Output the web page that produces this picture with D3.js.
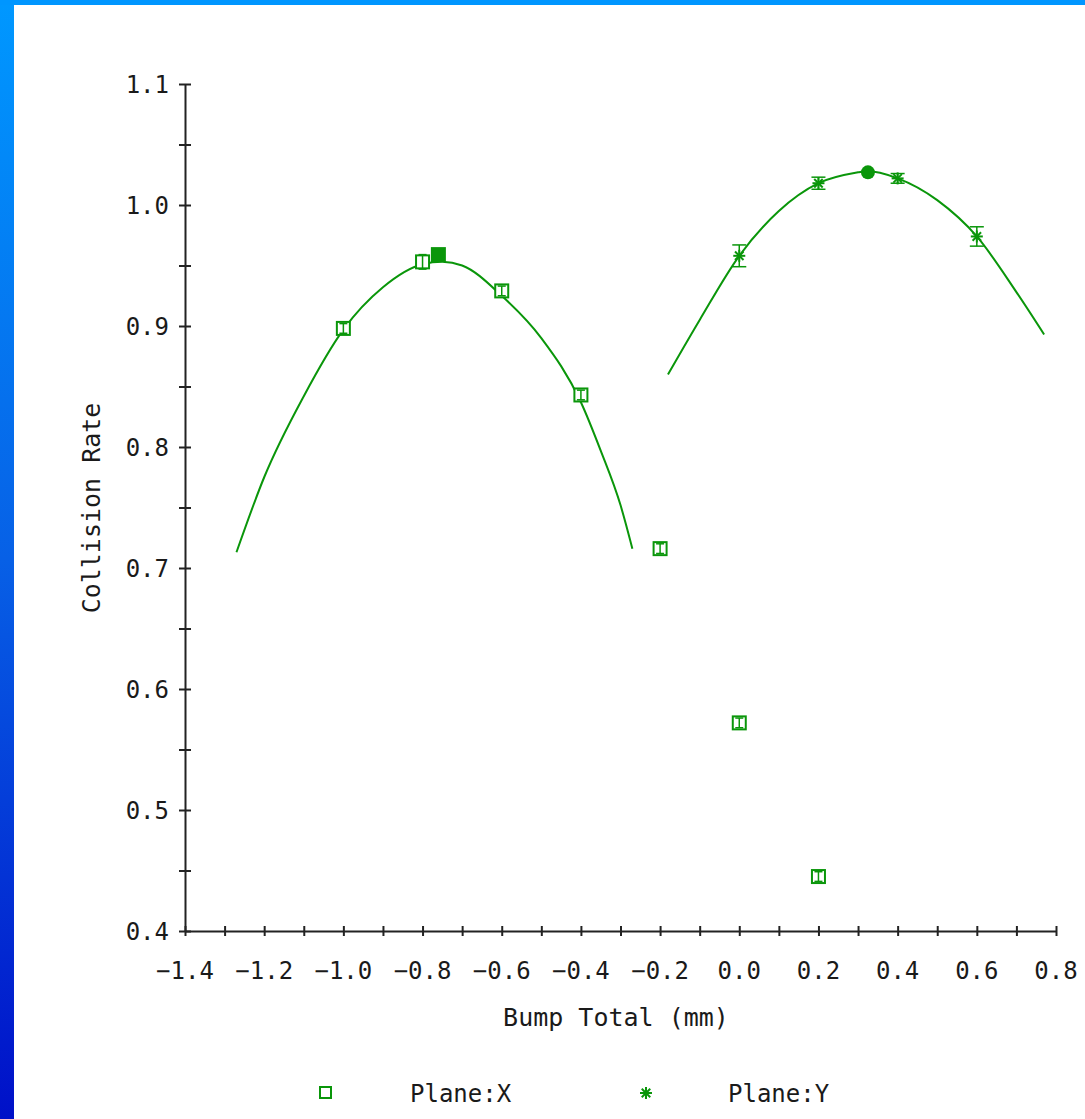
<!DOCTYPE html>
<html><head><meta charset="utf-8">
<script src="https://cdn.jsdelivr.net/npm/d3@7"></script>
<style>
html,body{margin:0;padding:0;background:#fff;}
svg{display:block;}
text{font-family:"DejaVu Sans Mono","Liberation Mono",monospace;fill:#1a1a1a;}
</style></head><body>
<script>
// ---- data ----
const planeX_x   = [-1.0, -0.8, -0.6, -0.4, -0.2, 0.0, 0.2];
const planeX_y   = [0.898, 0.953, 0.929, 0.843, 0.716, 0.572, 0.445];
const planeX_err = [0.004, 0.006, 0.004, 0.004, 0.004, 0.004, 0.004];
const planeY_x   = [0.0, 0.2, 0.4, 0.6];
const planeY_y   = [0.958, 1.018, 1.022, 0.974];
const planeY_err = [0.009, 0.005, 0.004, 0.008];
const fitX_x = [-1.27, -1.2, -1.1, -1.0, -0.9, -0.8, -0.75, -0.7, -0.6, -0.5, -0.4, -0.35, -0.3, -0.27];
const fitX_y = [0.713, 0.775, 0.842, 0.897, 0.932, 0.951, 0.953, 0.950, 0.925, 0.890, 0.837, 0.797, 0.752, 0.716];
const fitY_x = [-0.18, -0.1, 0.0, 0.1, 0.2, 0.3, 0.32, 0.4, 0.5, 0.6, 0.7, 0.77];
const fitY_y = [0.860, 0.905, 0.958, 0.995, 1.018, 1.027, 1.028, 1.022, 1.004, 0.974, 0.928, 0.893];
const peakX = [-0.76, 0.959];
const peakY = [0.325, 1.027];
const xTicks = [-1.4, -1.2, -1.0, -0.8, -0.6, -0.4, -0.2, 0.0, 0.2, 0.4, 0.6, 0.8];
const yTicks = [0.4, 0.5, 0.6, 0.7, 0.8, 0.9, 1.0, 1.1];
const legendLabels = ["Plane:X", "Plane:Y"];

const W = 1085, H = 1119;
const green = "#0a960a";
const svg = d3.select("body").append("svg").attr("width", W).attr("height", H);

// frame
const defs = svg.append("defs");
const lg = defs.append("linearGradient").attr("id","blueg").attr("x1",0).attr("y1",0).attr("x2",0).attr("y2",1);
lg.append("stop").attr("offset","0%").attr("stop-color","#0098ff");
lg.append("stop").attr("offset","50%").attr("stop-color","#0760e6");
lg.append("stop").attr("offset","100%").attr("stop-color","#0010c8");
svg.append("rect").attr("x",0).attr("y",0).attr("width",14).attr("height",H).attr("fill","url(#blueg)");
svg.append("rect").attr("x",0).attr("y",0).attr("width",W).attr("height",5).attr("fill","#0096ff");

// scales
const x = d3.scaleLinear().domain([-1.4, 0.8]).range([185, 1056]);
const y = d3.scaleLinear().domain([0.4, 1.1]).range([931, 84]);

// axes
const xAxis = d3.axisBottom(x).tickValues(d3.range(-1.4, 0.801, 0.1).map(v => +v.toFixed(2))).tickSize(0).tickFormat("");
const gx = svg.append("g").attr("transform","translate(0,931)").call(xAxis);
gx.select(".domain").attr("stroke","#222").attr("stroke-width",2);
gx.selectAll(".tick line").remove();
gx.selectAll(".tick").append("line").attr("y1",-5).attr("y2",5).attr("stroke","#222").attr("stroke-width",2);
svg.append("g").selectAll("text").data(xTicks).join("text")
  .attr("x", d => x(d)).attr("y", 979).attr("text-anchor","middle").attr("font-size",24)
  .text(d => (d < 0 ? "\u2212" : "") + Math.abs(d).toFixed(1));

const yAxis = d3.axisLeft(y).tickValues(d3.range(0.4, 1.101, 0.05).map(v => +v.toFixed(2))).tickSize(0).tickFormat("");
const gy = svg.append("g").attr("transform","translate(185,0)").call(yAxis);
gy.select(".domain").attr("stroke","#222").attr("stroke-width",2);
gy.selectAll(".tick line").remove();
gy.selectAll(".tick").append("line").attr("x1",-6).attr("x2",6).attr("stroke","#222").attr("stroke-width",2);
svg.append("g").selectAll("text").data(yTicks).join("text")
  .attr("x", 169).attr("y", d => y(d) + 9).attr("text-anchor","end").attr("font-size",24)
  .text(d => d.toFixed(1));

// titles
svg.append("text").attr("x", 616).attr("y", 1026).attr("text-anchor","middle").attr("font-size",25).text("Bump Total (mm)");
svg.append("text").attr("transform","translate(100,508) rotate(-90)").attr("text-anchor","middle").attr("font-size",25).text("Collision Rate");

// fit curves
const line = d3.line().x(d => x(d[0])).y(d => y(d[1])).curve(d3.curveMonotoneX);
svg.append("path").datum(d3.zip(fitX_x, fitX_y)).attr("d", line).attr("fill","none").attr("stroke",green).attr("stroke-width",2);
svg.append("path").datum(d3.zip(fitY_x, fitY_y)).attr("d", line).attr("fill","none").attr("stroke",green).attr("stroke-width",2);

// plane X squares with error bars
const gX = svg.append("g");
planeX_x.forEach((vx, i) => {
  const cx = x(vx), cy = y(planeX_y[i]);
  gX.append("rect").attr("x", cx-6.5).attr("y", cy-6.5).attr("width",13).attr("height",13)
    .attr("fill","#fff").attr("stroke",green).attr("stroke-width",2);
  const e = planeX_err[i];
  gX.append("line").attr("x1",cx).attr("x2",cx).attr("y1",y(planeX_y[i]+e)).attr("y2",y(planeX_y[i]-e)).attr("stroke",green).attr("stroke-width",1.5);
  gX.append("line").attr("x1",cx-4).attr("x2",cx+4).attr("y1",y(planeX_y[i]+e)).attr("y2",y(planeX_y[i]+e)).attr("stroke",green).attr("stroke-width",1.5);
  gX.append("line").attr("x1",cx-4).attr("x2",cx+4).attr("y1",y(planeX_y[i]-e)).attr("y2",y(planeX_y[i]-e)).attr("stroke",green).attr("stroke-width",1.5);
});
// peak marker X (filled square)
svg.append("rect").attr("x", x(peakX[0])-7.5).attr("y", y(peakX[1])-7.5).attr("width",15).attr("height",15).attr("fill",green);

// plane Y asterisks with error bars
function star(g, cx, cy, r) {
  [0, 45, 90, 135].forEach(a => {
    const t = a*Math.PI/180;
    g.append("line").attr("x1", cx - r*Math.cos(t)).attr("y1", cy - r*Math.sin(t))
      .attr("x2", cx + r*Math.cos(t)).attr("y2", cy + r*Math.sin(t))
      .attr("stroke", green).attr("stroke-width", 2);
  });
}
const gY = svg.append("g");
planeY_x.forEach((vx, i) => {
  const cx = x(vx), cy = y(planeY_y[i]);
  const e = planeY_err[i];
  gY.append("line").attr("x1",cx).attr("x2",cx).attr("y1",y(planeY_y[i]+e)).attr("y2",y(planeY_y[i]-e)).attr("stroke",green).attr("stroke-width",1.5);
  gY.append("line").attr("x1",cx-7).attr("x2",cx+7).attr("y1",y(planeY_y[i]+e)).attr("y2",y(planeY_y[i]+e)).attr("stroke",green).attr("stroke-width",1.5);
  gY.append("line").attr("x1",cx-7).attr("x2",cx+7).attr("y1",y(planeY_y[i]-e)).attr("y2",y(planeY_y[i]-e)).attr("stroke",green).attr("stroke-width",1.5);
  star(gY, cx, cy, 6);
});
// peak marker Y (filled circle)
svg.append("circle").attr("cx", x(peakY[0])).attr("cy", y(peakY[1])).attr("r",7).attr("fill",green);

// legend
const lgG = svg.append("g");
lgG.append("rect").attr("x",320).attr("y",1087).attr("width",11).attr("height",11).attr("fill","none").attr("stroke",green).attr("stroke-width",2);
lgG.append("text").attr("x",410).attr("y",1102).attr("font-size",24).text(legendLabels[0]);
star(lgG, 646, 1093, 6);
lgG.append("text").attr("x",728).attr("y",1102).attr("font-size",24).text(legendLabels[1]);
</script>
</body></html>
